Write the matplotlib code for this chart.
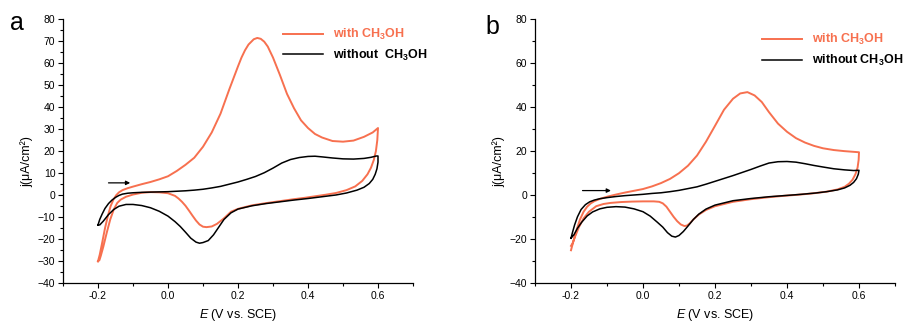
import matplotlib
matplotlib.use("Agg")
import matplotlib.pyplot as plt
from matplotlib.ticker import MultipleLocator

plt.rcParams['font.family'] = ['Liberation Sans', 'DejaVu Sans']
plt.rcParams['mathtext.fontset'] = 'custom'
plt.rcParams['mathtext.rm'] = 'Liberation Sans:bold'
plt.rcParams['mathtext.it'] = 'Liberation Sans:italic'
plt.rcParams['mathtext.default'] = 'rm'

RED = '#f7704f'

# ---- panel a : with CH3OH (forward then reverse scan) ----
a_with_E = [-0.200, -0.195, -0.188, -0.180, -0.172, -0.164, -0.156, -0.148, -0.140, -0.130,
            -0.115, -0.100, -0.075, -0.050, -0.025, 0.000, 0.025, 0.050, 0.075, 0.100,
            0.125, 0.150, 0.175, 0.200, 0.210, 0.220, 0.230, 0.245, 0.255, 0.265,
            0.275, 0.285, 0.300, 0.320, 0.340, 0.360, 0.380, 0.400, 0.420, 0.440,
            0.470, 0.500, 0.530, 0.560, 0.585, 0.600,
            0.598, 0.594, 0.588, 0.580, 0.570, 0.555, 0.535, 0.510, 0.480, 0.450,
            0.420, 0.390, 0.360, 0.320, 0.280, 0.240, 0.200, 0.180, 0.160, 0.140,
            0.125, 0.110, 0.100, 0.090, 0.080, 0.070, 0.060, 0.050, 0.040, 0.030,
            0.020, 0.000, -0.025, -0.050, -0.075, -0.100, -0.120, -0.135, -0.145, -0.155,
            -0.165, -0.175, -0.185, -0.192, -0.196, -0.200]
a_with_j = [-30, -27, -21.5, -15, -9.5, -5, -2, 0, 1.3, 2.3,
            3.2, 3.9, 5, 6, 7.2, 8.6, 11, 13.8, 17, 22,
            28.5, 37, 48, 58.5, 62.5, 65.8, 68.4, 70.8, 71.4, 71.0,
            69.7, 67.5, 62.5, 54.5, 46, 39.5, 34, 30.5, 27.8, 26.2,
            24.6, 24.3, 24.8, 26.5, 28.5, 30.5,
            25, 20, 16, 12.5, 9.5, 6.5, 4, 2.3, 1.0, 0.2,
            -0.5, -1.2, -1.8, -2.7, -3.6, -4.6, -6.2, -7.5, -10.5, -13,
            -14.2, -14.5, -14.3, -13.3, -11.5, -9.3, -7, -4.8, -3, -1.5,
            -0.3, 0.9, 1.3, 1.4, 1.1, 0.3, -0.7, -2.0, -3.5, -6.5,
            -11, -17, -23.5, -27.5, -29.5, -30]

# ---- panel a : without CH3OH ----
a_without_E = [-0.200, -0.195, -0.188, -0.180, -0.170, -0.160, -0.150, -0.140, -0.130, -0.115,
               -0.100, -0.075, -0.050, -0.025, 0.000, 0.025, 0.050, 0.075, 0.100, 0.125,
               0.150, 0.175, 0.200, 0.225, 0.250, 0.275, 0.300, 0.325, 0.350, 0.375,
               0.400, 0.420, 0.440, 0.470, 0.500, 0.530, 0.560, 0.580, 0.595, 0.600,
               0.600, 0.597, 0.592, 0.585, 0.575, 0.560, 0.540, 0.510, 0.480, 0.440,
               0.400, 0.360, 0.320, 0.280, 0.240, 0.200, 0.180, 0.160, 0.145, 0.130,
               0.115, 0.100, 0.090, 0.080, 0.065, 0.050, 0.035, 0.020, 0.000, -0.025,
               -0.050, -0.075, -0.100, -0.120, -0.140, -0.155, -0.170, -0.185, -0.195, -0.200]
a_without_j = [-13.5, -11, -8.5, -6, -3.8, -2.2, -1.0, -0.1, 0.5, 0.9,
               1.1, 1.3, 1.4, 1.5, 1.6, 1.8, 2.0, 2.3, 2.7, 3.3,
               4.0, 5.0, 6.0, 7.2, 8.5, 10.2, 12.3, 14.6, 16.2, 17.1,
               17.6, 17.7, 17.4, 16.9, 16.5, 16.4, 16.7, 17.2, 17.8, 17.8,
               15, 12, 9.5, 7.2, 5.3, 3.6, 2.3, 1.0, 0.1, -0.7,
               -1.5, -2.2, -3.0, -3.8, -4.8, -6.3, -8, -11, -14.5, -18,
               -20.6, -21.5, -21.8, -21.3, -19.5, -16.8, -14.2, -12, -9.5, -7.3,
               -5.7, -4.7, -4.2, -4.2, -5.0, -6.5, -8.8, -11.8, -13.5, -13.5]

# ---- panel b : with CH3OH ----
b_with_E = [-0.200, -0.196, -0.190, -0.183, -0.175, -0.165, -0.155, -0.145, -0.135, -0.120,
            -0.100, -0.075, -0.050, -0.025, 0.000, 0.025, 0.050, 0.075, 0.100, 0.125,
            0.150, 0.175, 0.200, 0.225, 0.250, 0.270, 0.290, 0.310, 0.330, 0.350,
            0.375, 0.400, 0.425, 0.450, 0.475, 0.500, 0.530, 0.560, 0.600,
            0.599, 0.596, 0.590, 0.582, 0.572, 0.560, 0.540, 0.510, 0.470, 0.430,
            0.390, 0.350, 0.300, 0.250, 0.200, 0.175, 0.155, 0.140, 0.130, 0.122,
            0.115, 0.105, 0.095, 0.085, 0.075, 0.065, 0.055, 0.045, 0.030, 0.000,
            -0.030, -0.060, -0.090, -0.110, -0.130, -0.150, -0.165, -0.178, -0.188, -0.196,
            -0.200]
b_with_j = [-25, -22.5, -19, -15, -11, -7.5, -5.2, -3.7, -2.7, -1.7,
            -0.7, 0.3, 1.2, 2.0, 2.8, 4.0, 5.5, 7.4, 10, 13.4,
            18, 24.3, 31.5, 38.8, 43.8, 46.2, 46.8, 45.3, 42.3, 37.7,
            32.5, 28.8, 25.9, 23.9, 22.4, 21.3, 20.5, 20.0, 19.5,
            16, 12.5, 9.5, 7, 5.2, 3.8, 2.6, 1.6, 0.8, 0.2,
            -0.3, -0.9, -1.8, -3.0, -5.0, -6.7, -8.8, -11, -12.8, -13.8,
            -14.0, -13.3, -11.8, -9.8, -7.5, -5.2, -3.7, -3.0, -2.8, -2.8,
            -2.9, -3.1, -3.5, -4.0, -5.0, -7.5, -10.5, -14.5, -18.5, -22,
            -23]

# ---- panel b : without CH3OH ----
b_without_E = [-0.200, -0.196, -0.190, -0.182, -0.172, -0.160, -0.148, -0.135, -0.120, -0.100,
               -0.075, -0.050, -0.025, 0.000, 0.025, 0.050, 0.075, 0.100, 0.125, 0.150,
               0.175, 0.200, 0.225, 0.250, 0.275, 0.300, 0.325, 0.350, 0.375, 0.400,
               0.425, 0.450, 0.475, 0.500, 0.530, 0.560, 0.585, 0.600,
               0.598, 0.593, 0.585, 0.575, 0.560, 0.540, 0.510, 0.480, 0.440, 0.400,
               0.350, 0.300, 0.250, 0.200, 0.175, 0.155, 0.140, 0.125, 0.112, 0.100,
               0.090, 0.080, 0.068, 0.055, 0.040, 0.020, 0.000, -0.025, -0.050, -0.075,
               -0.100, -0.120, -0.140, -0.155, -0.170, -0.182, -0.192, -0.200]
b_without_j = [-19.5, -17, -13.5, -9.8, -6.5, -4.3, -3.0, -2.2, -1.6, -1.1,
               -0.6, -0.2, 0.1, 0.4, 0.8, 1.1, 1.6, 2.2, 3.0, 3.8,
               5.0, 6.3, 7.6, 8.9, 10.3, 11.7, 13.2, 14.6, 15.2, 15.3,
               15.0, 14.3, 13.5, 12.8, 12.0, 11.5, 11.2, 11.3,
               9.5, 7.5, 5.8, 4.5, 3.3, 2.4, 1.6, 1.0, 0.4, -0.1,
               -0.7, -1.5, -2.5, -4.5, -6.3, -8.6, -11, -14, -16.5, -18.3,
               -19.0, -18.6, -17.0, -14.5, -12.3, -9.5, -7.5, -6.2, -5.4, -5.2,
               -5.5, -6.2, -7.6, -9.4, -12.2, -15.0, -18.0, -19.5]

fig = plt.figure(figsize=(9.1, 3.23), dpi=100)
ax_a = fig.add_axes([63/910, 1 - 283.3/323, 350/910, 264.3/323])
ax_b = fig.add_axes([535/910, 1 - 283.3/323, 360/910, 264.3/323])

panels = [
    (ax_a, a_with_E, a_with_j, a_without_E, a_without_j, 'without  CH$_3$OH', 10, 5,
     (-0.108, 5.6), (-0.17, 5.6), (0.628, 0.97)),
    (ax_b, b_with_E, b_with_j, b_without_E, b_without_j, 'without CH$_3$OH', 20, 10,
     (-0.089, 2.1), (-0.168, 2.1), (0.63, 0.95)),
]

for ax, wE, wj, woE, woj, wo_label, ymaj, ymin, arr_end, arr_start, leg_pos in panels:
    ax.plot(wE, wj, color=RED, lw=1.4, label='with CH$_3$OH')
    ax.plot(woE, woj, color='black', lw=1.1, label=wo_label)

    ax.set_xlim(-0.3, 0.7)
    ax.set_ylim(-40, 80)
    ax.xaxis.set_major_locator(MultipleLocator(0.2))
    ax.xaxis.set_minor_locator(MultipleLocator(0.1))
    ax.yaxis.set_major_locator(MultipleLocator(ymaj))
    ax.yaxis.set_minor_locator(MultipleLocator(ymin))
    ax.xaxis.set_major_formatter(plt.FuncFormatter(lambda v, p: f'{v:.1f}'))

    for s in ['top', 'right']:
        ax.spines[s].set_visible(False)
    for s in ['left', 'bottom']:
        ax.spines[s].set_linewidth(0.9)
    ax.tick_params(which='major', direction='out', length=3.5, width=0.8, labelsize=7.5, pad=2)
    ax.tick_params(which='minor', direction='out', length=2, width=0.8)

    ax.set_xlabel(r'$\mathit{E}$ (V vs. SCE)', fontsize=9, labelpad=4.5)
    ax.set_ylabel('j(μA/cm²)', fontsize=9)

    ax.annotate('', xy=arr_end, xytext=arr_start,
                arrowprops=dict(arrowstyle='-|>', color='black', lw=0.9,
                                mutation_scale=6, shrinkA=0, shrinkB=0))

    leg = ax.legend(loc='upper left', bbox_to_anchor=leg_pos, frameon=False,
                    handlelength=3.2, handletextpad=0.8, labelspacing=0.45,
                    borderpad=0, borderaxespad=0,
                    prop={'weight': 'bold', 'size': 9}, labelcolor='linecolor')

ax_a.yaxis.set_label_coords(-0.086, 0.46)
ax_b.yaxis.set_label_coords(-0.083, 0.46)

fig.text(10/910, 1 - 30/323, 'a', fontsize=18, va='baseline', ha='left')
fig.text(485/910, 1 - 34/323, 'b', fontsize=18, va='baseline', ha='left')

fig.savefig('out.png', dpi=100)
